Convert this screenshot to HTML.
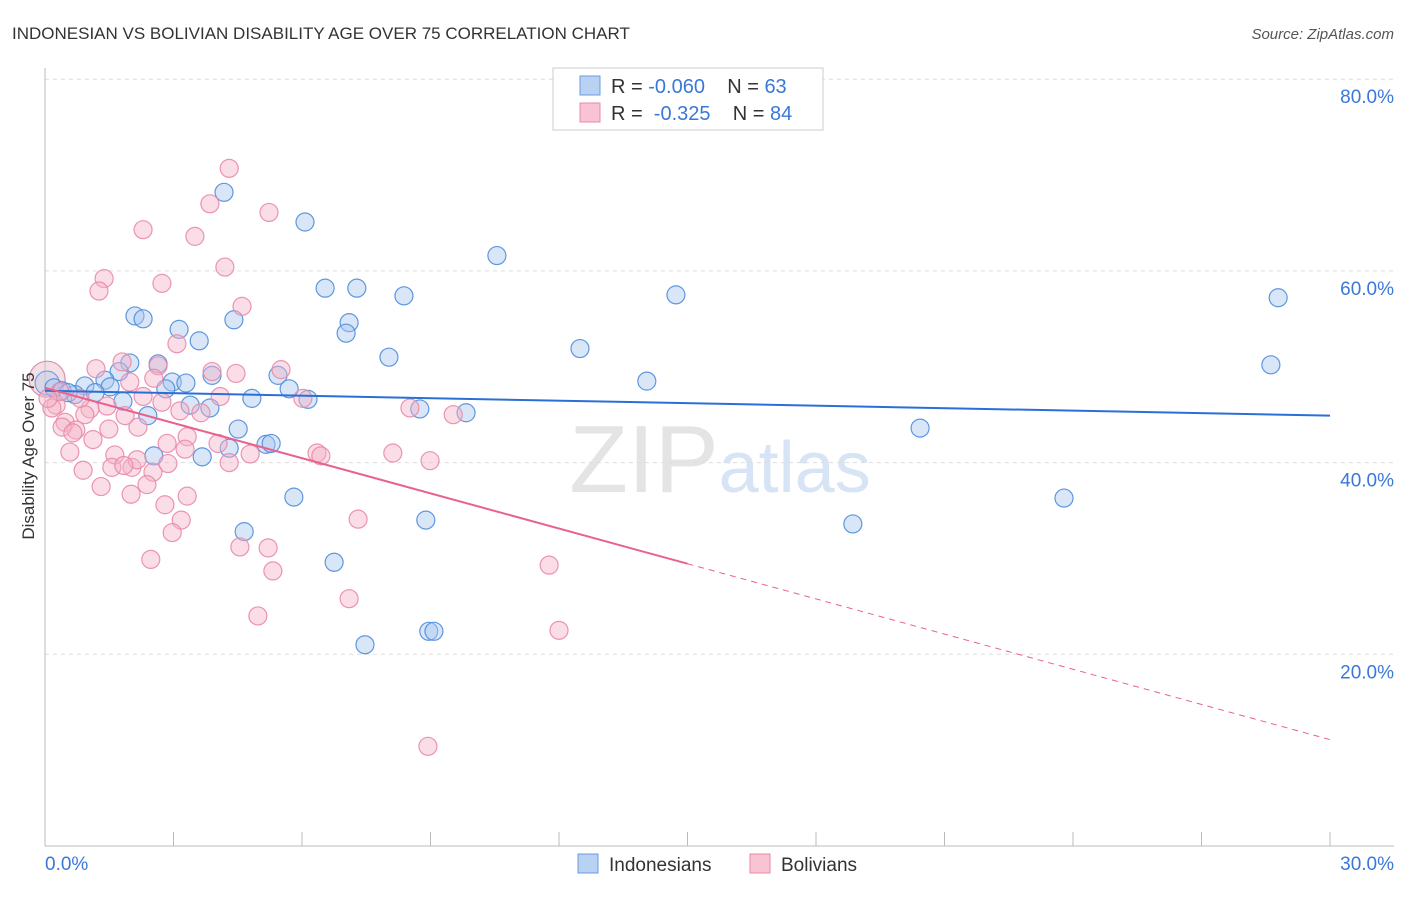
<!DOCTYPE html>
<html><head><meta charset="utf-8"><style>
body{margin:0;background:#fff;font-family:"Liberation Sans",sans-serif;}
svg text{font-family:"Liberation Sans",sans-serif;}
</style></head><body>
<svg id="chart" width="1406" height="892" viewBox="0 0 1406 892" xmlns="http://www.w3.org/2000/svg">
<text x="12" y="39" font-size="17" fill="#333">INDONESIAN VS BOLIVIAN DISABILITY AGE OVER 75 CORRELATION CHART</text>
<text x="1394" y="39" font-size="15" fill="#555" text-anchor="end" font-style="italic">Source: ZipAtlas.com</text>
<text x="720" y="492" font-size="96" text-anchor="middle" fill="#e4e4e4" font-family="Liberation Serif">ZIP<tspan fill="#d6e4f5" font-family="Liberation Sans" font-size="72">atlas</tspan></text>
<g id="grid"></g>
<g id="axes"></g>
<g id="points"></g>
<g id="trends"></g>
<text transform="translate(34,456) rotate(-90)" font-size="17" fill="#333" text-anchor="middle">Disability Age Over 75</text>
<g>
<rect x="553" y="68" width="270" height="62" fill="#fff" stroke="#ccc"/>
<rect x="580" y="76" width="20" height="19" fill="#b8d2f4" stroke="#6a9be0"/>
<rect x="580" y="103" width="20" height="19" fill="#f8c4d4" stroke="#e98aa8"/>
<text x="611" y="93" font-size="20" fill="#333" style="white-space:pre">R = <tspan fill="#3a78d8">-0.060</tspan>    N = <tspan fill="#3a78d8">63</tspan></text>
<text x="611" y="120" font-size="20" fill="#333" style="white-space:pre">R =  <tspan fill="#3a78d8">-0.325</tspan>    N = <tspan fill="#3a78d8">84</tspan></text>
</g>
<g>
<rect x="578" y="854" width="20" height="19" fill="#b8d2f4" stroke="#6a9be0"/>
<text x="609" y="871" font-size="19" fill="#333">Indonesians</text>
<rect x="750" y="854" width="20" height="19" fill="#f8c4d4" stroke="#e98aa8"/>
<text x="781" y="871" font-size="19" fill="#333">Bolivians</text>
</g>
</svg>
<script>
const blueX=[4.18,6.07,10.55,6.54,7.28,8.38,14.73,28.79,2.10,2.29,4.41,3.13,7.10,7.03,3.60,12.49,8.03,28.62,1.98,2.64,1.73,5.44,14.05,2.97,3.29,1.40,3.90,0.93,0.21,0.40,1.52,5.70,2.82,1.17,0.70,0.54,4.83,1.82,6.14,3.39,3.85,8.75,9.83,2.40,4.51,20.43,2.54,3.67,4.30,5.16,5.28,5.81,23.79,8.89,18.86,4.65,6.75,8.96,9.08,7.47];
const blueY=[68.2,65.1,61.6,58.2,58.2,57.4,57.5,57.2,55.3,55.0,54.9,53.9,54.6,53.5,52.7,51.9,51.0,50.2,50.4,50.3,49.5,49.1,48.5,48.4,48.3,48.6,49.1,48.0,47.8,47.5,47.9,47.7,47.7,47.3,47.1,47.3,46.7,46.4,46.6,46.0,45.7,45.6,45.2,44.9,43.5,43.6,40.7,40.6,41.5,41.9,42.0,36.4,36.3,34.0,33.6,32.8,29.6,22.4,22.4,21.0];
const pinkX=[4.30,3.85,5.23,2.29,3.50,4.20,1.38,1.26,2.73,4.60,3.08,1.19,1.80,2.64,4.46,5.51,3.90,1.98,2.54,4.09,2.29,2.73,1.45,6.02,8.52,9.53,0.26,0.16,1.05,0.93,1.87,3.15,3.64,0.47,0.72,0.40,2.17,1.49,0.65,2.85,3.32,1.12,4.04,0.58,1.63,3.27,4.79,6.35,6.44,8.12,8.99,0.89,1.56,2.03,2.15,1.84,2.52,2.87,4.30,2.38,1.31,2.01,3.32,2.80,3.18,7.31,2.97,4.55,5.21,2.47,5.32,11.77,7.10,4.97,12.00,8.94,0.35,0.07,0.82];
const pinkY=[70.7,67.0,66.1,64.3,63.6,60.4,59.2,57.9,58.7,56.3,52.4,49.8,50.5,50.1,49.3,49.7,49.5,48.4,48.8,46.9,46.9,46.3,45.9,46.7,45.7,45.0,46.0,45.7,45.6,45.0,44.9,45.4,45.2,44.2,43.4,43.7,43.7,43.5,43.1,42.0,42.7,42.4,42.0,41.1,40.8,41.4,40.9,41.0,40.7,41.0,40.2,39.2,39.5,39.5,40.3,39.7,39.0,39.9,40.0,37.7,37.5,36.7,36.5,35.6,34.0,34.1,32.7,31.2,31.1,29.9,28.7,29.3,25.8,24.0,22.5,10.4,47.4,46.7,46.7];
const yTicks=[20,40,60,80];
const yTickLabels=["20.0%","40.0%","60.0%","80.0%"];
const xTickLabels=["0.0%","30.0%"];
const blueTrend=[47.5,44.9];
const pinkTrend=[47.8,11.1];
const pinkSolidEnd=15;

const NS="http://www.w3.org/2000/svg";
const X0=45,X1=1330,Y0=846,PPY=9.585;
const xs=v=>X0+(v/30)*(X1-X0);
const ys=v=>Y0-v*PPY;
function mk(tag,attrs,parent){const e=document.createElementNS(NS,tag);for(const k in attrs)e.setAttribute(k,attrs[k]);parent.appendChild(e);return e;}
const grid=document.getElementById('grid'),axes=document.getElementById('axes'),pts=document.getElementById('points'),tr=document.getElementById('trends');
yTicks.forEach((t,i)=>{
 const l=mk('line',{x1:X0,x2:1394,y1:ys(t),y2:ys(t),stroke:'#ddd','stroke-dasharray':'4,4'},grid);
 
 
 const tx=mk('text',{x:1394,y:ys(t)+24,'font-size':19,fill:'#3a78d8','text-anchor':'end'},axes);
 tx.textContent=yTickLabels[i];
 
 
});
const ax=mk('line',{x1:X0,x2:X0,y1:68,y2:Y0,stroke:'#bbb'},axes);


const bx=mk('line',{x1:X0,x2:1394,y1:Y0,y2:Y0,stroke:'#bbb'},axes);


for(let i=0;i<=10;i++){
 const t=mk('line',{x1:xs(i*3),x2:xs(i*3),y1:832,y2:Y0,stroke:'#bbb'},axes);
 
 
}
[[0,'start',45],[30,'end',1394]].forEach((d,i)=>{
 const tx=mk('text',{x:d[2],y:870,'font-size':19,fill:'#3a78d8','text-anchor':d[1]},axes);
 tx.textContent=xTickLabels[i];
 
 
});
function dot(x,y,r,fill,stroke,name){
 const c=mk('circle',{cx:xs(x),cy:ys(y),r:r,fill:fill,'fill-opacity':0.45,stroke:stroke,'stroke-width':1.2,'stroke-opacity':0.9},pts);
 
 
}
dot(0.05,48.7,18,'#e9b8c8','#d08aa6','bolivian-large-point');
dot(0.05,48.3,12,'#b8cbea','#6a9be0','indonesian-large-point');
blueX.forEach((x,i)=>dot(x,blueY[i],9,'#a9c8f0','#4f8ddc','indonesian-point'));
pinkX.forEach((x,i)=>dot(x,pinkY[i],9,'#f5b3c8','#e98aa8','bolivian-point'));
const bl=mk('line',{x1:xs(0),y1:ys(blueTrend[0]),x2:xs(30),y2:ys(blueTrend[1]),stroke:'#2a6fd6','stroke-width':2},tr);


const pm=pinkTrend[0]+(pinkTrend[1]-pinkTrend[0])*pinkSolidEnd/30;
const pl=mk('line',{x1:xs(0),y1:ys(pinkTrend[0]),x2:xs(pinkSolidEnd),y2:ys(pm),stroke:'#e8628e','stroke-width':2},tr);


const pd=mk('line',{x1:xs(pinkSolidEnd),y1:ys(pm),x2:xs(30),y2:ys(pinkTrend[1]),stroke:'#e8628e','stroke-width':1,'stroke-dasharray':'6,5'},tr);


</script>
</body></html>
